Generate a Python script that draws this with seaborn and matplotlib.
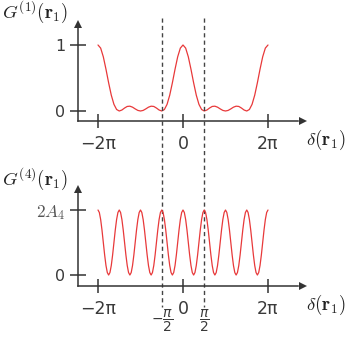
import numpy as np
import pandas as pd
import matplotlib
matplotlib.use("Agg")
import matplotlib.pyplot as plt
import matplotlib.transforms as mtransforms
from matplotlib.font_manager import FontProperties
import seaborn as sns

# ---------------- data ----------------
# top panel: G(1) sampled every pi/16 from -2pi to 2pi
top_step = np.pi / 16
top_n = list(range(-32, 33))
g1_values = [
    1.000, 0.953, 0.821, 0.633, 0.427, 0.240, 0.101, 0.023,
    0.000, 0.015, 0.045, 0.069, 0.073, 0.058, 0.032, 0.009,
    0.000, 0.009, 0.032, 0.058, 0.073, 0.069, 0.045, 0.015,
    0.000, 0.023, 0.101, 0.240, 0.427, 0.633, 0.821, 0.953,
    1.000, 0.953, 0.821, 0.633, 0.427, 0.240, 0.101, 0.023,
    0.000, 0.015, 0.045, 0.069, 0.073, 0.058, 0.032, 0.009,
    0.000, 0.009, 0.032, 0.058, 0.073, 0.069, 0.045, 0.015,
    0.000, 0.023, 0.101, 0.240, 0.427, 0.633, 0.821, 0.953,
    1.000,
]
# bottom panel: G(4) in units of A4, sampled every pi/32 from -2pi to 2pi
bot_step = np.pi / 32
bot_n = list(range(-64, 65))
g4_values = [
    2.000, 1.924, 1.707, 1.383, 1.000, 0.617, 0.293, 0.076, 0.000, 0.076, 0.293, 0.617, 1.000, 1.383, 1.707, 1.924,
    2.000, 1.924, 1.707, 1.383, 1.000, 0.617, 0.293, 0.076, 0.000, 0.076, 0.293, 0.617, 1.000, 1.383, 1.707, 1.924,
    2.000, 1.924, 1.707, 1.383, 1.000, 0.617, 0.293, 0.076, 0.000, 0.076, 0.293, 0.617, 1.000, 1.383, 1.707, 1.924,
    2.000, 1.924, 1.707, 1.383, 1.000, 0.617, 0.293, 0.076, 0.000, 0.076, 0.293, 0.617, 1.000, 1.383, 1.707, 1.924,
    2.000, 1.924, 1.707, 1.383, 1.000, 0.617, 0.293, 0.076, 0.000, 0.076, 0.293, 0.617, 1.000, 1.383, 1.707, 1.924,
    2.000, 1.924, 1.707, 1.383, 1.000, 0.617, 0.293, 0.076, 0.000, 0.076, 0.293, 0.617, 1.000, 1.383, 1.707, 1.924,
    2.000, 1.924, 1.707, 1.383, 1.000, 0.617, 0.293, 0.076, 0.000, 0.076, 0.293, 0.617, 1.000, 1.383, 1.707, 1.924,
    2.000, 1.924, 1.707, 1.383, 1.000, 0.617, 0.293, 0.076, 0.000, 0.076, 0.293, 0.617, 1.000, 1.383, 1.707, 1.924,
    2.000,
]
x_ticks = [-2 * np.pi, 0, 2 * np.pi]
x_ticklabels = ["\u22122\u03c0", "0", "2\u03c0"]
half_ticks = [-np.pi / 2, np.pi / 2]
half_ticklabels = [r"$-\dfrac{\pi}{2}$", r"$\dfrac{\pi}{2}$"]
top_yticks = [0, 1]
top_yticklabels = ["0", "1"]
bot_yticks = [0, 2]
bot_yticklabels = ["0", r"$2A_4$"]
top_ylabel = r"$G^{(1)}(\mathbf{r}_1)$"
bot_ylabel = r"$G^{(4)}(\mathbf{r}_1)$"
x_label = r"$\delta(\mathbf{r}_1)$"

df_top = pd.DataFrame({"delta": np.array(top_n) * top_step, "G": g1_values})
df_bot = pd.DataFrame({"delta": np.array(bot_n) * bot_step, "G": g4_values})

# ---------------- styling ----------------
sns.set_theme(style="white")
plt.rcParams["font.family"] = ["DejaVu Sans"]

W, H = 351, 337
fig = plt.figure(figsize=(W / 100, H / 100), dpi=100)

AX_COL = "#333333"
TXT_COL = "#3a3a3a"
RED = "#e8393a"


def px_axes(l, t, r, b):
    return fig.add_axes([l / W, 1 - b / H, (r - l) / W, (b - t) / H])


ax1 = px_axes(78, 27, 298, 121)
ax2 = px_axes(78, 192, 298, 286)

sns.lineplot(data=df_top, x="delta", y="G", ax=ax1, color=RED, lw=0.9)
sns.lineplot(data=df_bot, x="delta", y="G", ax=ax2, color=RED, lw=0.9)

ax1.set_xlim(-7.762, 8.501)
ax1.set_ylim(-0.1515, 1.2727)
ax2.set_xlim(-7.762, 8.501)
ax2.set_ylim(-0.338, 2.554)

for ax, yt, ytl in [(ax1, top_yticks, top_yticklabels), (ax2, bot_yticks, bot_yticklabels)]:
    for s in ["top", "right"]:
        ax.spines[s].set_visible(False)
    for s in ["left", "bottom"]:
        ax.spines[s].set_color(AX_COL)
        ax.spines[s].set_linewidth(1.1)
    ax.set_facecolor("none")
    ax.set_xlabel("")
    ax.set_ylabel("")
    ax.set_xticks(x_ticks)
    ax.set_xticklabels(x_ticklabels)
    ax.set_yticks(yt)
    ax.set_yticklabels(ytl)
    ax.tick_params(axis="x", which="major", bottom=True, direction="inout", length=10.5, width=1.1,
                   color=AX_COL, labelsize=12.5, labelcolor=TXT_COL, pad=5)
    ax.tick_params(axis="y", which="major", left=True, direction="inout", length=12, width=1.1,
                   color=AX_COL, labelsize=11.5, labelcolor=TXT_COL, pad=3)
    # arrowheads
    tx = ax.transAxes + mtransforms.ScaledTranslation(4.5 / 100, 0, fig.dpi_scale_trans)
    ax.plot([1], [0], marker=">", ms=6.3, color=AX_COL, mew=0, transform=tx, clip_on=False)
    ty = ax.transAxes + mtransforms.ScaledTranslation(0, 3.5 / 100, fig.dpi_scale_trans)
    ax.plot([0], [1], marker="^", ms=6.3, color=AX_COL, mew=0, transform=ty, clip_on=False)

# 2A4 label in serif italic
ylabs = ax2.get_yticklabels()
ylabs[1].set_fontproperties(FontProperties(family="DejaVu Sans", size=12.5, math_fontfamily="cm"))
ylabs[1].set_color("#555555")

# half-pi labels on bottom axis
ax2.set_xticks(half_ticks, minor=True)
ax2.set_xticklabels(half_ticklabels, minor=True)
ax2.tick_params(axis="x", which="minor", bottom=True, length=0, pad=15.5, labelcolor=TXT_COL)
for lab in ax2.get_xticklabels(minor=True):
    lab.set_fontproperties(FontProperties(family="DejaVu Sans", size=10, math_fontfamily="dejavusans"))

# dashed guide lines spanning both panels
blend = mtransforms.blended_transform_factory(ax1.transData, fig.transFigure)
for xv in half_ticks:
    ax1.plot([xv, xv], [1 - 18 / H, 1 - 307 / H], transform=blend, clip_on=False,
             color="#444444", lw=1.0, ls=(0, (3, 2.3)))

# axis titles
for (xp, yp, s) in [(2, 12, top_ylabel), (2, 179, bot_ylabel), (306, 140, x_label), (306, 305, x_label)]:
    fig.text(xp / W, 1 - yp / H, s, ha="left", va="center", fontsize=13.5,
             math_fontfamily="cm", color="#222222")

fig.savefig("out.png", dpi=100, facecolor="white")
